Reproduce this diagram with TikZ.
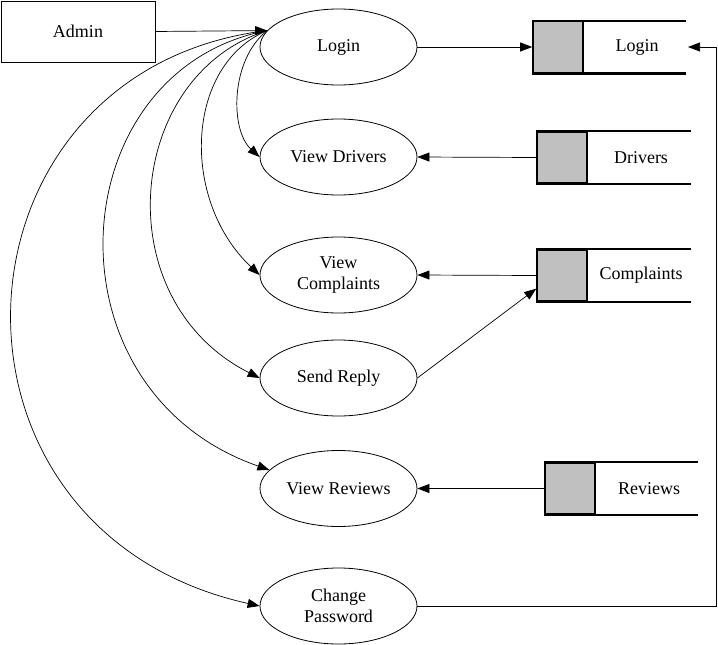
\documentclass[tikz,border=0pt]{standalone}
\usepackage{fontspec}
\setmainfont{Liberation Serif}
\usetikzlibrary{arrows.meta,shapes.geometric,calc}
\definecolor{storegray}{HTML}{C0C0C0}
\begin{document}
\begin{tikzpicture}[x=1pt,y=-1pt,
  txt/.style={font=\fontsize{18}{21}\selectfont, align=center},
  proc/.style={txt, ellipse, draw, line width=0.8pt, minimum width=157pt, minimum height=76pt, inner sep=0pt},
  ent/.style={txt, rectangle, draw, line width=0.8pt, minimum width=154pt, minimum height=61pt, inner sep=0pt},
  storebox/.style={rectangle, draw, line width=1.6pt, fill=storegray, minimum width=50pt, minimum height=51pt, inner sep=0pt},
  storeline/.style={line width=2.4pt},
  arr/.style={-{Triangle[length=12pt,width=9pt]}, line width=0.7pt}
]
\useasboundingbox (0,0) rectangle (718,645);

% external entity
\node[ent] (admin) at (78,31.5) {Admin};

% processes
\node[proc] (login) at (338.5,47) {Login};
\node[proc] (vd) at (338.5,157) {View Drivers};
\node[proc] (vc) at (338.5,275) {View\\Complaints};
\node[proc] (sr) at (338.5,378) {Send Reply};
\node[proc] (vr) at (338.5,488.5) {View Reviews};
\node[proc] (cp) at (338.5,606) {Change\\Password};

% data stores
\node[storebox] (dsl) at (558,47) {};
\node[txt] (dsltxt) at (637,47) {Login};
\draw[storeline] (dsl.north west) -- ++(153.5,0);
\draw[storeline] (dsl.south west) -- ++(153.5,0);

\node[storebox] (dsd) at (562,157.5) {};
\node[txt] (dsdtxt) at (641,157.5) {Drivers};
\draw[storeline] (dsd.north west) -- ++(154.5,0);
\draw[storeline] (dsd.south west) -- ++(154.5,0);

\node[storebox] (dsc) at (562,275.5) {};
\node[txt] (dsctxt) at (641,275.5) {Complaints};
\draw[storeline] (dsc.north west) -- ++(154.5,0);
\draw[storeline] (dsc.south west) -- ++(154.5,0);

\node[storebox] (dsr) at (570,488.5) {};
\node[txt] (dsrtxt) at (649,488.5) {Reviews};
\draw[storeline] (dsr.north west) -- ++(154,0);
\draw[storeline] (dsr.south west) -- ++(154,0);

% admin to login
\coordinate (s) at (login.167);
\draw[arr] (admin.east) -- (s);

% curves from login entry point
\draw[arr] (s) .. controls (230,60) and (230,130) .. (vd.west);
\draw[arr] (s) .. controls (185,65) and (180,200) .. (vc.west);
\draw[arr] (s) .. controls (125,75) and (105,300) .. (sr.west);
\draw[arr] (s) .. controls (60,70) and (40,390) .. (vr.165);
\draw[arr] (s) .. controls (-60,70) and (-83,530) .. (cp.west);

% flows with stores
\draw[arr] (login.east) -- (dsl.west);
\draw[arr] (dsd.west) -- (vd.east);
\draw[arr] (dsc.west) -- (vc.east);
\draw[arr] (sr.east) -- (dsc.207);
\draw[arr] (dsr.west) -- (vr.east);

\coordinate (cpr) at (716,606);
\coordinate (lgr) at (716,47);
\coordinate (lgtip) at (688,47);
\draw[arr] (cp.east) -- (cpr) -- (lgr) -- (lgtip);
\end{tikzpicture}
\end{document}
